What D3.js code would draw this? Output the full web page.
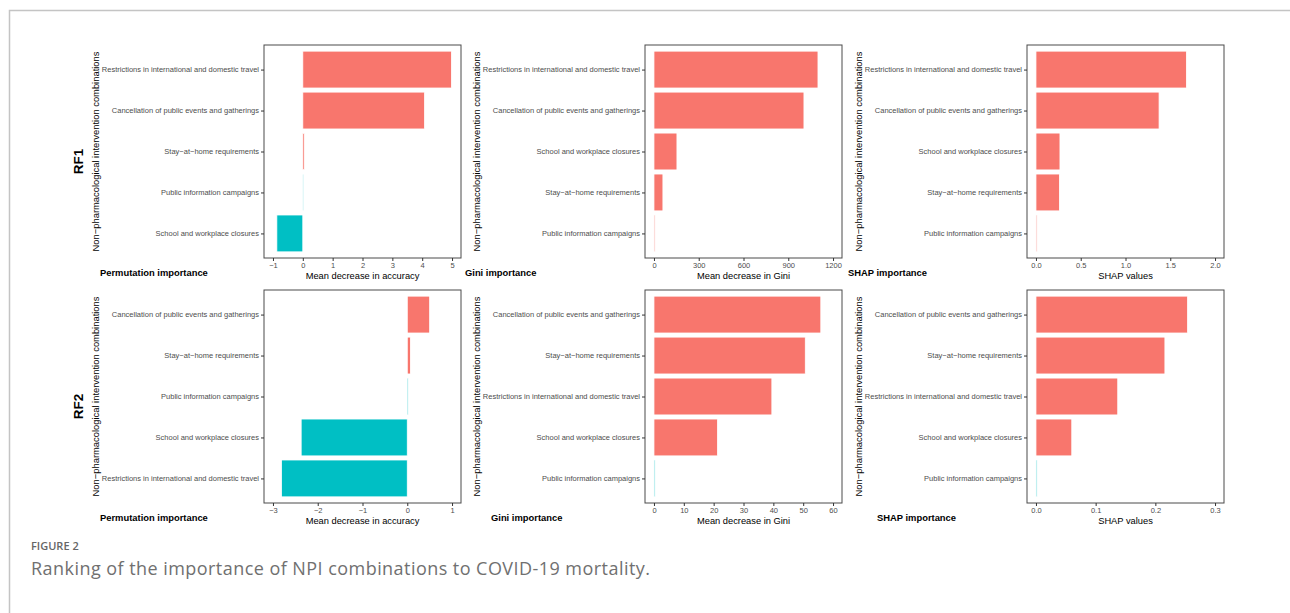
<!DOCTYPE html>
<html>
<head>
<meta charset="utf-8">
<script src="https://cdn.jsdelivr.net/npm/d3@7"></script>
<style>
  body { margin: 0; background: #fff; }
  svg text { font-family: "Liberation Sans", Arial, sans-serif; }
  .cap { font-family: "Open Sans", "Noto Sans", sans-serif; }
</style>
</head>
<body>
<div id="chart"></div>
<script>
// labels and values, listed top to bottom as drawn in each panel
var rf1PermLabels = ["Restrictions in international and domestic travel", "Cancellation of public events and gatherings", "Stay−at−home requirements", "Public information campaigns", "School and workplace closures"];
var rf1PermValues = [4.98, 4.08, 0.05, -0.01, -0.87];
var rf1PermTicks = [-1, 0, 1, 2, 3, 4, 5];

var rf1GiniLabels = ["Restrictions in international and domestic travel", "Cancellation of public events and gatherings", "School and workplace closures", "Stay−at−home requirements", "Public information campaigns"];
var rf1GiniValues = [1099, 1005, 154, 60, 3];
var rf1GiniTicks = [0, 300, 600, 900, 1200];

var rf1ShapLabels = ["Restrictions in international and domestic travel", "Cancellation of public events and gatherings", "School and workplace closures", "Stay−at−home requirements", "Public information campaigns"];
var rf1ShapValues = [1.68, 1.375, 0.268, 0.262, 0.008];
var rf1ShapTicks = [0, 0.5, 1, 1.5, 2];

var rf2PermLabels = ["Cancellation of public events and gatherings", "Stay−at−home requirements", "Public information campaigns", "School and workplace closures", "Restrictions in international and domestic travel"];
var rf2PermValues = [0.5, 0.07, -0.005, -2.37, -2.81];
var rf2PermTicks = [-3, -2, -1, 0, 1];

var rf2GiniLabels = ["Cancellation of public events and gatherings", "Stay−at−home requirements", "Restrictions in international and domestic travel", "School and workplace closures", "Public information campaigns"];
var rf2GiniValues = [55.9, 50.7, 39.5, 21.3, 0];
var rf2GiniTicks = [0, 10, 20, 30, 40, 50, 60];

var rf2ShapLabels = ["Cancellation of public events and gatherings", "Stay−at−home requirements", "Restrictions in international and domestic travel", "School and workplace closures", "Public information campaigns"];
var rf2ShapValues = [0.254, 0.216, 0.137, 0.060, 0];
var rf2ShapTicks = [0, 0.1, 0.2, 0.3];

var rowNames = ["RF1", "RF2"];
var subtitles = ["Permutation importance", "Gini importance", "SHAP importance"];
var xTitles = ["Mean decrease in accuracy", "Mean decrease in Gini", "SHAP values"];
var yTitle = "Non−pharmacological intervention combinations";

var posColor = "#F8766D";
var negColor = "#00BFC4";

var svgWidth = 1290, svgHeight = 613;
var panelLeft = [264, 645, 1027];
var panelTop = [45, 290];
var panelW = 197, panelH = 213;
// the small titles under the panels don't line up the same in both rows
var subtitleX = [[100, 465, 848], [100, 491, 877]];

var svg = d3.select("#chart").append("svg")
    .attr("width", svgWidth)
    .attr("height", svgHeight);

// page frame
svg.append("path")
    .attr("d", "M9.5,613 V10.5 H1290")
    .attr("fill", "none")
    .attr("stroke", "#c4c4c4")
    .attr("stroke-width", 1.5);

var panels = [
  [[rf1PermLabels, rf1PermValues, rf1PermTicks, d3.format("d")],
   [rf1GiniLabels, rf1GiniValues, rf1GiniTicks, d3.format("d")],
   [rf1ShapLabels, rf1ShapValues, rf1ShapTicks, d3.format(".1f")]],
  [[rf2PermLabels, rf2PermValues, rf2PermTicks, d3.format("d")],
   [rf2GiniLabels, rf2GiniValues, rf2GiniTicks, d3.format("d")],
   [rf2ShapLabels, rf2ShapValues, rf2ShapTicks, d3.format(".1f")]]
];

panels.forEach(function(row, r) {
  var top = panelTop[r];

  //row name RF1 / RF2
  svg.append("text")
      .attr("transform", "translate(" + (panelLeft[0] - 181) + "," + (top + panelH / 2 + 10) + ") rotate(-90)")
      .attr("text-anchor", "middle")
      .attr("font-size", "13.5px")
      .attr("font-weight", "bold")
      .attr("fill", "#000")
      .text(rowNames[r]);

  row.forEach(function(p, c) {
    var labels = p[0], values = p[1], ticks = p[2], fmt = p[3];
    var left = panelLeft[c];
    var t0 = ticks[0], t1 = ticks[ticks.length - 1];
    var pad = (t1 - t0) * 0.05;

    var x = d3.scaleLinear()
        .domain([t0 - pad, t1 + pad])
        .range([left, left + panelW]);
    var y = d3.scalePoint()
        .domain(labels)
        .range([top, top + panelH])
        .padding(0.6);
    var barH = y.step() * 0.9;

    var g = svg.append("g");

    // bars
    g.selectAll("rect.bar")
        .data(values)
        .enter()
        .append("rect")
        .attr("class", "bar")
        .attr("x", function(d) { return Math.min(x(0), x(d)); })
        .attr("y", function(d, i) { return y(labels[i]) - barH / 2; })
        .attr("width", function(d) { return Math.max(Math.abs(x(d) - x(0)), 1.2); })
        .attr("height", barH)
        .attr("fill", function(d) { return d > 0 ? posColor : negColor; })
        .attr("fill-opacity", function(d) { return Math.abs(x(d) - x(0)) < 1.2 ? 0.5 : 1; })
        .attr("stroke", "#fff")
        .attr("stroke-width", 0.8);

    // panel border
    g.append("rect")
        .attr("x", left)
        .attr("y", top)
        .attr("width", panelW)
        .attr("height", panelH)
        .attr("fill", "none")
        .attr("stroke", "#4a4a4a")
        .attr("stroke-width", 1);

    // axes
    var xAxis = d3.axisBottom(x).tickValues(ticks).tickFormat(fmt).tickSize(3).tickPadding(2);
    var gx = g.append("g")
        .attr("transform", "translate(0," + (top + panelH) + ")")
        .call(xAxis);
    var yAxis = d3.axisLeft(y).tickSize(3).tickPadding(2);
    var gy = g.append("g")
        .attr("transform", "translate(" + left + ",0)")
        .call(yAxis);
    [gx, gy].forEach(function(ax) {
      ax.select(".domain").remove();
      ax.selectAll(".tick line").attr("stroke", "#333");
      ax.selectAll(".tick text")
          .attr("fill", "#4d4d4d")
          .attr("font-size", "7.5px")
          .attr("font-family", "Liberation Sans, Arial, sans-serif");
    });

    // axis titles
    g.append("text")
        .attr("x", left + panelW / 2)
        .attr("y", top + panelH + 21)
        .attr("text-anchor", "middle")
        .attr("font-size", "9.3px")
        .attr("fill", "#000")
        .text(xTitles[c]);

    g.append("text")
        .attr("transform", "translate(" + (left - 165) + "," + (top + panelH / 2) + ") rotate(-90)")
        .attr("text-anchor", "middle")
        .attr("font-size", "9.4px")
        .attr("fill", "#000")
        .text(yTitle);

    g.append("text")
        .attr("x", subtitleX[r][c])
        .attr("y", top + panelH + 18)
        .attr("font-size", "9.4px")
        .attr("font-weight", "bold")
        .attr("fill", "#000")
        .text(subtitles[c]);
  });
});

// figure caption
svg.append("text")
    .attr("class", "cap")
    .attr("x", 31)
    .attr("y", 550)
    .attr("font-size", "11px")
    .attr("font-weight", 600)
    .attr("fill", "#666")
    .text("FIGURE 2");

svg.append("text")
    .attr("class", "cap")
    .attr("x", 31)
    .attr("y", 575)
    .attr("font-size", "18px")
    .attr("letter-spacing", "0.45px")
    .attr("fill", "#707070")
    .text("Ranking of the importance of NPI combinations to COVID-19 mortality.");
</script>
</body>
</html>
